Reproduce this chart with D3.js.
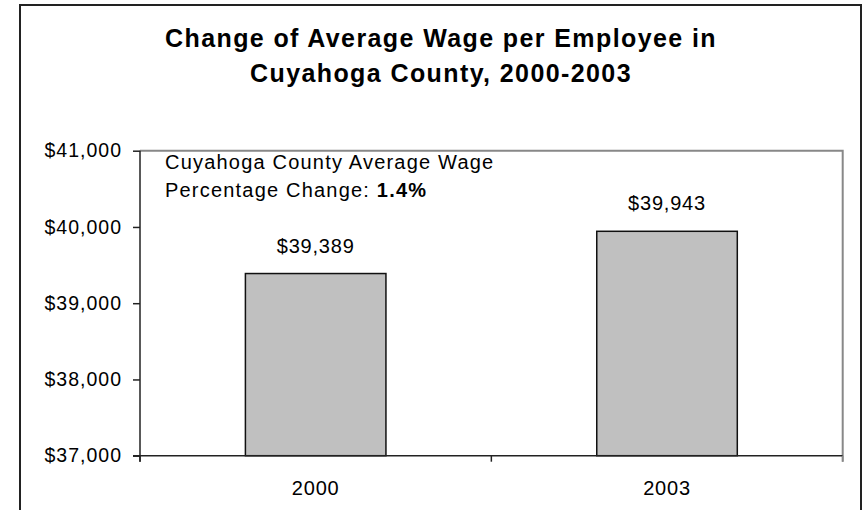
<!doctype html>
<html>
<head>
  <title>Cuyahoga average wage</title>
  <style>
    body { margin: 0; background: #fff; }
    svg text { font-family: Arial, "Liberation Sans", sans-serif; fill: #000; }
  </style>
</head>
<body>
  <script src="https://cdn.jsdelivr.net/npm/d3@7"></script>
  <svg id="chart" width="863" height="510"></svg>
  <script>

  // data
  const years = ["2000", "2003"];
  const wages = [39389, 39943];
  const yTicks = [37000, 38000, 39000, 40000, 41000];
  const titleLines = ["Change of Average Wage per Employee in", "Cuyahoga County, 2000-2003"];
  const noteLine1 = "Cuyahoga County Average Wage";
  const noteLabel = "Percentage Change: ";
  const noteValue = "1.4%";

  let svg = d3.select("#chart");

  // outer frame
  svg.append("rect")
    .attr("x", 20).attr("y", 5)
    .attr("width", 841).attr("height", 520)
    .attr("fill", "none")
    .attr("stroke", "#222")
    .attr("stroke-width", 2);

  // title
  svg.append("g")
    .selectAll("text")
    .data(titleLines)
    .enter()
    .append("text")
    .attr("x", 441)
    .attr("y", (d, i) => 47 + i * 35)
    .attr("text-anchor", "middle")
    .style("font-size", "25px")
    .style("font-weight", "bold")
    .style("letter-spacing", "1.4px")
    .text(d => d);

  let plot = {left: 140, right: 842.7, top: 150.7, bottom: 455.7};

  let x = d3.scaleBand()
    .domain(years)
    .range([plot.left, plot.right])
    .paddingInner(0.6)
    .paddingOuter(0.3);

  let y = d3.scaleLinear()
    .domain([37000, 41000])
    .range([plot.bottom, plot.top]);

  // plot frame, top and right in grey
  svg.append("path")
    .attr("d", `M${plot.left},${plot.top}H${plot.right}V${plot.bottom + 6}`)
    .attr("fill", "none")
    .attr("stroke", "#888")
    .attr("stroke-width", 2);

  // y axis
  let yAxis = svg.append("g")
    .attr("transform", `translate(${plot.left},0)`)
    .call(d3.axisLeft(y).tickValues(yTicks).tickFormat(d3.format("$,")).tickSize(7).tickPadding(11));
  yAxis.select(".domain").remove();
  yAxis.selectAll("line").attr("stroke", "#222").attr("stroke-width", 1.5);
  yAxis.selectAll("text")
    .style("font-size", "19.5px")
    .style("letter-spacing", "1px")
    .attr("font-family", null);

  // x axis
  let xAxis = svg.append("g")
    .attr("transform", `translate(0,${plot.bottom})`)
    .call(d3.axisBottom(x).tickSize(0).tickPadding(25));
  xAxis.select(".domain").remove();
  xAxis.selectAll("text")
    .style("font-size", "20px")
    .style("letter-spacing", "0.8px")
    .attr("font-family", null);

  // bars
  svg.append("g")
    .selectAll("rect")
    .data(wages)
    .enter()
    .append("rect")
    .attr("x", (d, i) => x(years[i]))
    .attr("y", d => y(d))
    .attr("width", x.bandwidth())
    .attr("height", d => plot.bottom - y(d))
    .attr("fill", "#c0c0c0")
    .attr("stroke", "#111")
    .attr("stroke-width", 1.5);

  // value labels
  svg.append("g")
    .selectAll("text")
    .data(wages)
    .enter()
    .append("text")
    .attr("x", (d, i) => x(years[i]) + x.bandwidth() / 2)
    .attr("y", d => y(d) - 21)
    .attr("text-anchor", "middle")
    .style("font-size", "20px")
    .style("letter-spacing", "0.8px")
    .text(d => d3.format("$,")(d));

  // axis lines drawn last so they sit on top of bars
  let catTicks = [plot.left, (plot.left + plot.right) / 2, plot.right];
  svg.append("line")
    .attr("x1", plot.left).attr("x2", plot.left)
    .attr("y1", plot.top).attr("y2", plot.bottom + 6)
    .attr("stroke", "#222").attr("stroke-width", 1.5);
  svg.append("line")
    .attr("x1", plot.left - 7).attr("x2", plot.right)
    .attr("y1", plot.bottom).attr("y2", plot.bottom)
    .attr("stroke", "#222").attr("stroke-width", 1.5);
  svg.append("g")
    .selectAll("line")
    .data(catTicks)
    .enter()
    .append("line")
    .attr("x1", d => d).attr("x2", d => d)
    .attr("y1", plot.bottom).attr("y2", plot.bottom + 6)
    .attr("stroke", (d, i) => i == 2 ? "#888" : "#222")
    .attr("stroke-width", 1.5);

  // note in the plot
  let note = svg.append("g").style("font-size", "20px").style("letter-spacing", "1.2px");
  note.append("text").attr("x", 165).attr("y", 168.5).text(noteLine1);
  let line2 = note.append("text").attr("x", 165).attr("y", 196.5);
  line2.append("tspan").text(noteLabel);
  line2.append("tspan").style("font-weight", "bold").text(noteValue);

  </script>
</body>
</html>
